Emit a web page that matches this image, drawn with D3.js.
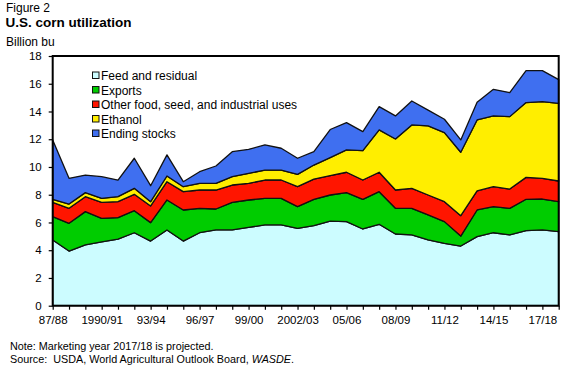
<!DOCTYPE html>
<html>
<head>
<meta charset="utf-8">
<script src="https://cdn.jsdelivr.net/npm/d3@7"></script>
<style>
  body { margin: 0; background: #fff; }
  svg { font-family: "Liberation Sans", Arial, sans-serif; }
</style>
</head>
<body>
<div id="chart"></div>
<script>
// marketing years, 1987/88 .. last plotted year
var years = ["1987/88","1988/89","1989/90","1990/91","1991/92","1992/93","1993/94","1994/95",
  "1995/96","1996/97","1997/98","1998/99","1999/00","2000/01","2001/02","2002/03",
  "2003/04","2004/05","2005/06","2006/07","2007/08","2008/09","2009/10","2010/11",
  "2011/12","2012/13","2013/14","2014/15","2015/16","2016/17","2017/18","2018/19"];

// billion bushels
var feed = [4.74,3.94,4.38,4.60,4.80,5.26,4.66,5.46,4.66,5.26,5.46,5.46,5.65,5.82,5.82,5.58,
  5.77,6.10,6.06,5.53,5.87,5.17,5.10,4.74,4.50,4.30,4.98,5.26,5.10,5.41,5.46,5.34];
var exportsUse = [1.68,2.00,2.40,1.70,1.55,1.59,1.33,2.16,2.24,1.76,1.51,1.99,1.97,1.92,1.92,1.56,
  1.90,1.88,2.09,2.14,2.35,1.85,1.92,1.80,1.56,0.72,1.92,1.88,1.92,2.26,2.23,2.16];
var otherFSI = [1.03,1.08,1.08,1.15,1.15,1.18,1.20,1.32,1.32,1.32,1.37,1.25,1.20,1.32,1.32,1.44,
  1.46,1.40,1.47,1.39,1.40,1.32,1.44,1.44,1.44,1.47,1.37,1.44,1.39,1.58,1.49,1.49];
var ethanol = [0.22,0.31,0.29,0.29,0.36,0.43,0.31,0.41,0.36,0.48,0.48,0.60,0.72,0.72,0.72,0.89,
  1.01,1.29,1.61,2.12,3.05,3.68,4.57,4.98,4.98,4.57,5.12,5.10,5.22,5.39,5.53,5.60];
var endingStocks = [4.28,1.85,1.27,1.56,1.20,2.17,1.15,1.52,0.36,0.84,1.25,1.80,1.73,1.81,1.57,1.16,
  0.96,2.03,1.97,1.37,1.68,1.66,1.73,1.14,0.96,0.89,1.27,1.92,1.73,2.31,2.24,1.71];

var seriesNames = ["Feed and residual","Exports","Other food, seed, and industrial uses","Ethanol","Ending stocks"];
var seriesColors = ["#ccfcff","#00cc00","#ff1500","#ffee00","#3f6ff0"];

var tickYears = ["1987/88","1990/91","1993/94","1996/97","1999/00","2002/03","2005/06","2008/09","2011/12","2014/15","2017/18"];
var tickText  = ["87/88","1990/91","93/94","96/97","99/00","2002/03","05/06","08/09","11/12","14/15","17/18"];
var yTicks = [0,2,4,6,8,10,12,14,16,18];

var rows = years.map(function(yr, i){
  return { year: yr, s0: feed[i], s1: exportsUse[i], s2: otherFSI[i], s3: ethanol[i], s4: endingStocks[i] };
});
var keys = ["s0","s1","s2","s3","s4"];

var W = 566, H = 370;
var plotL = 52.7, plotR = 558.7, plotT = 56, plotB = 305.7;

var svg = d3.select("#chart").append("svg").attr("width", W).attr("height", H);

var x = d3.scalePoint().domain(years).range([plotL, plotR]);
var y = d3.scaleLinear().domain([0, 18]).range([plotB, plotT]);

var stacked = d3.stack().keys(keys)(rows);

var area = d3.area()
  .x(function(d){ return x(d.data.year); })
  .y0(function(d){ return y(d[0]); })
  .y1(function(d){ return y(d[1]); });

svg.append("g").selectAll("path")
  .data(stacked)
  .enter().append("path")
  .attr("d", area)
  .attr("fill", function(d, i){ return seriesColors[i]; })
  .attr("stroke", "#111")
  .attr("stroke-width", 1.3)
  .attr("stroke-linejoin", "round");

// frame
svg.append("rect")
  .attr("x", plotL).attr("y", plotT)
  .attr("width", plotR - plotL).attr("height", plotB - plotT)
  .attr("fill", "none").attr("stroke", "#000").attr("stroke-width", 2);

// y axis
var yAxis = svg.append("g")
  .attr("transform", "translate(" + plotL + ",0)")
  .call(d3.axisLeft(y).tickValues(yTicks).tickSize(4).tickPadding(7));
yAxis.select(".domain").remove();
yAxis.selectAll("line").attr("stroke", "#000").attr("stroke-width", 1.2);
yAxis.selectAll("text").attr("font-size", 11.5).attr("fill", "#000").attr("font-family", "Liberation Sans, Arial, sans-serif");

// x axis: a tick for every year, labels every third
var xAxis = svg.append("g")
  .attr("transform", "translate(0," + plotB + ")")
  .call(d3.axisBottom(x).tickSize(4).tickPadding(6).tickFormat(function(d){
    var k = tickYears.indexOf(d);
    return k >= 0 ? tickText[k] : "";
  }));
xAxis.select(".domain").remove();
xAxis.selectAll("line").attr("stroke", "#000").attr("stroke-width", 1.2);
xAxis.selectAll("text").attr("font-size", 11.5).attr("fill", "#000").attr("font-family", "Liberation Sans, Arial, sans-serif");

// legend
var lg = svg.append("g").attr("transform", "translate(92,80)");
seriesNames.forEach(function(name, i){
  var g = lg.append("g").attr("transform", "translate(0," + (i * 14.5) + ")");
  g.append("rect").attr("x", 0.5).attr("y", -8).attr("width", 6.5).attr("height", 6.5)
    .attr("fill", seriesColors[i]).attr("stroke", "#111").attr("stroke-width", 1);
  g.append("text").attr("x", 9).attr("y", 0).attr("font-size", 12).text(name);
});

// titles
svg.append("text").attr("x", 6).attr("y", 11.5).attr("font-size", 12).text("Figure 2");
svg.append("text").attr("x", 5.5).attr("y", 26.7).attr("font-size", 13.5).attr("font-weight", "bold").text("U.S. corn utilization");
svg.append("text").attr("x", 6).attr("y", 45.7).attr("font-size", 12).text("Billion bu");

// notes
svg.append("text").attr("x", 10).attr("y", 350).attr("font-size", 10.8).text("Note: Marketing year 2017/18 is projected.");
var src = svg.append("text").attr("x", 10).attr("y", 363.3).attr("font-size", 10.8).attr("xml:space", "preserve");
src.append("tspan").text("Source:  USDA, World Agricultural Outlook Board, ");
src.append("tspan").attr("font-style", "italic").text("WASDE");
src.append("tspan").text(".");
</script>
</body>
</html>
